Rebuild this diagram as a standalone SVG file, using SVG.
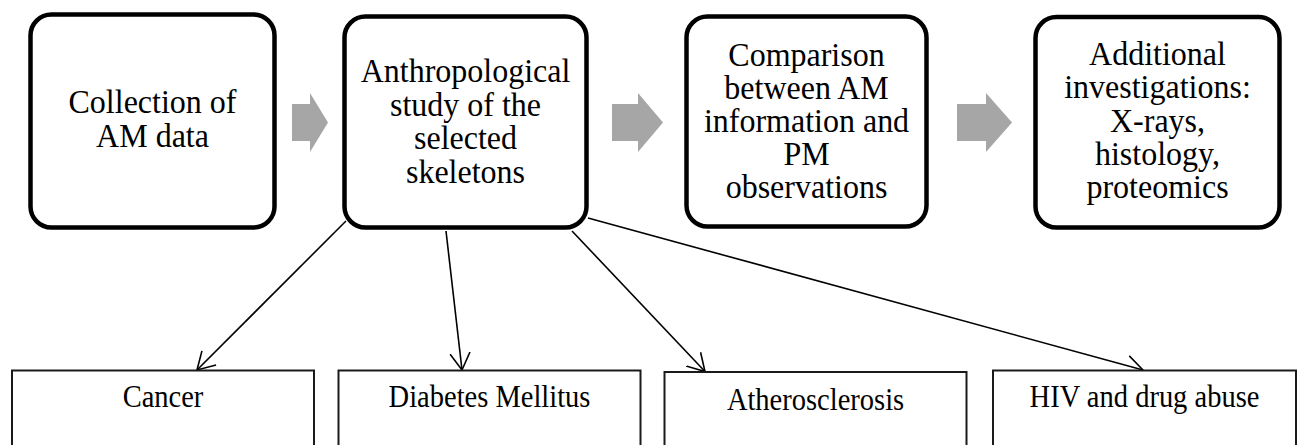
<svg xmlns="http://www.w3.org/2000/svg" width="1304" height="445" viewBox="0 0 1304 445">
<defs>
<style>
.step{fill:#fff;stroke:#000;stroke-width:4.5}
.leaf{fill:#fff;stroke:#1a1a1a;stroke-width:2}
.big{font-family:"Liberation Serif","Times New Roman",serif;font-size:32px;fill:#000;text-anchor:middle}
.small{font-family:"Liberation Serif","Times New Roman",serif;font-size:28.5px;fill:#000;text-anchor:middle}
.flow{fill:#a6a6a6;stroke:none}
.conn{fill:none;stroke:#000;stroke-width:1.6}
</style>
<marker id="open" markerUnits="userSpaceOnUse" viewBox="0 0 18 22" refX="17" refY="11" markerWidth="18" markerHeight="22" orient="auto">
<path d="M0,1 L17,11 L0,21" fill="none" stroke="#000" stroke-width="1.6"/>
</marker>
</defs>
<rect width="1304" height="445" fill="#fff"/>
<g id="connectors">
<line class="conn" x1="346" y1="221" x2="197" y2="370" marker-end="url(#open)"/>
<line class="conn" x1="446" y1="231" x2="462" y2="370" marker-end="url(#open)"/>
<line class="conn" x1="572" y1="231" x2="705" y2="371.5" marker-end="url(#open)"/>
<line class="conn" x1="588" y1="218" x2="1143" y2="370" marker-end="url(#open)"/>
<polygon class="flow" points="292,104 310,104 310,93 328,122.5 310,152 310,141 292,141"/>
<polygon class="flow" points="612,104 638,104 638,93 663,122.5 638,152 638,141 612,141"/>
<polygon class="flow" points="957,104 986,104 986,93 1012,122.5 986,152 986,141 957,141"/>
</g>
<g id="node-collection">
<rect class="step" x="30.5" y="14.5" width="244" height="213" rx="21"/>
<text class="big" transform="translate(152.5 113) scale(1 1.08)">Collection of</text>
<text class="big" transform="translate(152.5 147) scale(1 1.08)">AM data</text>
</g>
<g id="node-anthropological">
<rect class="step" x="344.5" y="16.5" width="242" height="211" rx="21"/>
<text class="big" transform="translate(465.5 82) scale(1 1.08)">Anthropological</text>
<text class="big" transform="translate(465.5 115.5) scale(1 1.08)">study of the</text>
<text class="big" transform="translate(465.5 149) scale(1 1.08)">selected</text>
<text class="big" transform="translate(465.5 182.5) scale(1 1.08)">skeletons</text>
</g>
<g id="node-comparison">
<rect class="step" x="686.5" y="16.5" width="240" height="210" rx="21"/>
<text class="big" transform="translate(806.5 66) scale(1 1.08)">Comparison</text>
<text class="big" transform="translate(806.5 99) scale(1 1.08)">between AM</text>
<text class="big" transform="translate(806.5 132) scale(1 1.08)">information and</text>
<text class="big" transform="translate(806.5 165) scale(1 1.08)">PM</text>
<text class="big" transform="translate(806.5 198) scale(1 1.08)">observations</text>
</g>
<g id="node-additional">
<rect class="step" x="1035.5" y="17" width="244" height="210.5" rx="21"/>
<text class="big" transform="translate(1157.5 65) scale(1 1.08)">Additional</text>
<text class="big" transform="translate(1157.5 98) scale(1 1.08)">investigations:</text>
<text class="big" transform="translate(1157.5 132) scale(1 1.08)">X-rays,</text>
<text class="big" transform="translate(1157.5 165) scale(1 1.08)">histology,</text>
<text class="big" transform="translate(1157.5 198) scale(1 1.08)">proteomics</text>
</g>
<g id="node-cancer">
<rect class="leaf" x="12" y="370.5" width="302" height="90"/>
<text class="small" transform="translate(163 407) scale(1 1.08)">Cancer</text>
</g>
<g id="node-diabetes">
<rect class="leaf" x="338.5" y="370.5" width="302" height="90"/>
<text class="small" transform="translate(489.5 407) scale(1 1.08)">Diabetes Mellitus</text>
</g>
<g id="node-atherosclerosis">
<rect class="leaf" x="664.5" y="372" width="302" height="90"/>
<text class="small" transform="translate(815.5 410) scale(1 1.08)">Atherosclerosis</text>
</g>
<g id="node-hiv">
<rect class="leaf" x="993" y="370.5" width="303" height="90"/>
<text class="small" transform="translate(1144.5 407) scale(1 1.08)">HIV and drug abuse</text>
</g>
</svg>
